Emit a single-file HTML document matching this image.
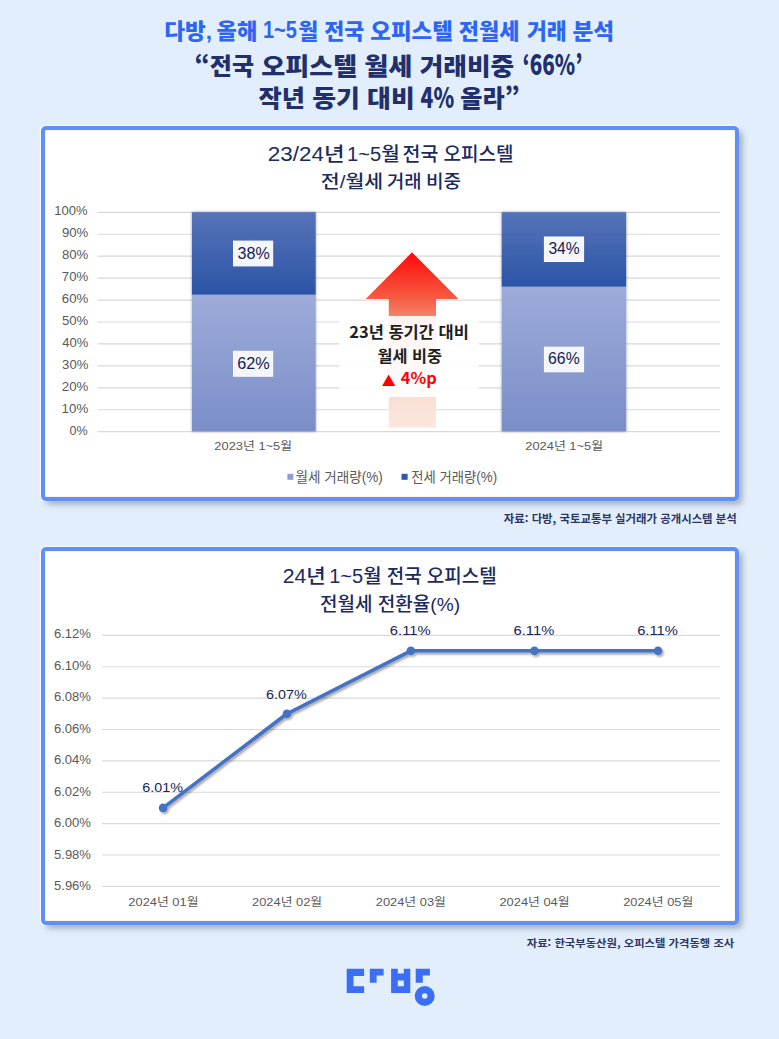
<!DOCTYPE html>
<html lang="ko">
<head>
<meta charset="utf-8">
<style>
html,body{margin:0;padding:0;}
body{width:779px;height:1039px;overflow:hidden;background:#e3eefd;position:relative;
font-family:"Liberation Sans","Noto Sans CJK KR",sans-serif;}
.box{position:absolute;box-sizing:border-box;border:4px solid #5f8ff8;border-radius:5px;background:#fff;
box-shadow:4px 4px 6px -1px rgba(55,65,90,0.42), 0 0 1.5px 0.8px rgba(255,255,255,0.95), inset 0 0 1px 0.5px rgba(230,215,185,0.55);}
#b1{left:41px;top:126px;width:698px;height:375px;}
#b2{left:41px;top:547px;width:698px;height:378px;}
svg{position:absolute;left:0;top:0;}
</style>
</head>
<body>
<div class="box" id="b1"></div>
<div class="box" id="b2"></div>
<svg width="779" height="1039" viewBox="0 0 779 1039">
<defs>
<linearGradient id="gTop" x1="0" y1="0" x2="0" y2="1">
<stop offset="0" stop-color="#5773b8"/><stop offset="1" stop-color="#2b55a7"/>
</linearGradient>
<linearGradient id="gBot" x1="0" y1="0" x2="0" y2="1">
<stop offset="0" stop-color="#9dabd9"/><stop offset="1" stop-color="#7a8ec8"/>
</linearGradient>
<linearGradient id="gArrow" gradientUnits="userSpaceOnUse" x1="0" y1="252" x2="0" y2="428">
<stop offset="0" stop-color="#ff0808"/><stop offset="0.267" stop-color="#f65d44"/><stop offset="0.364" stop-color="#f5846a"/><stop offset="0.82" stop-color="#f9dfd3"/><stop offset="1" stop-color="#fbe7de"/>
</linearGradient>
<filter id="lineShadow" x="-10%" y="-10%" width="130%" height="140%">
<feDropShadow dx="1.5" dy="2" stdDeviation="1.2" flood-color="#000" flood-opacity="0.35"/>
</filter>
<filter id="barShadow" x="-10%" y="-5%" width="120%" height="110%">
<feDropShadow dx="0" dy="0" stdDeviation="1.8" flood-color="#000" flood-opacity="0.35"/>
</filter>
</defs>

<!-- Chart 1 gridlines -->
<g stroke="#d9d9d9" stroke-width="1.2">
<line x1="97.5" x2="720" y1="212.30" y2="212.30"/>
<line x1="97.5" x2="720" y1="234.24" y2="234.24"/>
<line x1="97.5" x2="720" y1="256.18" y2="256.18"/>
<line x1="97.5" x2="720" y1="278.12" y2="278.12"/>
<line x1="97.5" x2="720" y1="300.06" y2="300.06"/>
<line x1="97.5" x2="720" y1="322.00" y2="322.00"/>
<line x1="97.5" x2="720" y1="343.94" y2="343.94"/>
<line x1="97.5" x2="720" y1="365.88" y2="365.88"/>
<line x1="97.5" x2="720" y1="387.82" y2="387.82"/>
<line x1="97.5" x2="720" y1="409.76" y2="409.76"/>
<line x1="97.5" x2="720" y1="431.70" y2="431.70"/>
</g>
<!-- bars -->
<g filter="url(#barShadow)">
<rect x="191.9" y="212.2" width="123.8" height="82.6" fill="url(#gTop)"/>
<rect x="191.9" y="294.8" width="123.8" height="136.6" fill="url(#gBot)"/>
<rect x="501.7" y="212.2" width="124.5" height="74.6" fill="url(#gTop)"/>
<rect x="501.7" y="286.8" width="124.5" height="144.6" fill="url(#gBot)"/>
</g>
<!-- data label boxes -->
<g fill="#f4f6fb" stroke="#fff" stroke-width="1">
<rect x="233.5" y="241.1" width="39.2" height="24.8"/>
<rect x="233.5" y="351.3" width="39.2" height="24.9"/>
<rect x="544.4" y="237.0" width="39.2" height="24.5"/>
<rect x="544.4" y="347.2" width="39.2" height="24.6"/>
</g>
<!-- arrow -->
<path d="M412 252.3 L458.6 299 L436 299 L436 427.4 L388.8 427.4 L388.8 299 L365.7 299 Z" fill="url(#gArrow)"/>
<rect x="339.2" y="316" width="139.7" height="81" fill="#fff" fill-opacity="0.9"/>
<!-- legend squares -->
<rect x="287.4" y="473.8" width="5.9" height="6" fill="#8d9dd2"/>
<rect x="401.5" y="473.8" width="6.1" height="6" fill="#2f58a9"/>

<!-- Chart 2 gridlines -->
<g stroke="#d9d9d9" stroke-width="1.2">
<line x1="102" x2="720" y1="635.40" y2="635.40"/>
<line x1="102" x2="720" y1="666.77" y2="666.77"/>
<line x1="102" x2="720" y1="698.15" y2="698.15"/>
<line x1="102" x2="720" y1="729.52" y2="729.52"/>
<line x1="102" x2="720" y1="760.90" y2="760.90"/>
<line x1="102" x2="720" y1="792.27" y2="792.27"/>
<line x1="102" x2="720" y1="823.65" y2="823.65"/>
<line x1="102" x2="720" y1="855.02" y2="855.02"/>
<line x1="102" x2="720" y1="886.40" y2="886.40"/>
</g>
<g filter="url(#lineShadow)">
<polyline points="163.1,807.9 286.9,713.8 410.8,650.8 534.4,650.8 658.0,650.8" fill="none" stroke="#4472c4" stroke-width="3.6" stroke-linejoin="round" stroke-linecap="round"/>
<g fill="#4472c4">
<circle cx="163.1" cy="807.9" r="4.3"/>
<circle cx="286.9" cy="713.8" r="4.3"/>
<circle cx="410.8" cy="650.8" r="4.3"/>
<circle cx="534.4" cy="650.8" r="4.3"/>
<circle cx="658.0" cy="650.8" r="4.3"/>
</g>
</g>

<text x="164.24" y="38.86" font-size="21.37" font-weight="900" font-family="'Liberation Sans', 'Noto Sans CJK KR', sans-serif" fill="#2d66f5" textLength="47.86" lengthAdjust="spacingAndGlyphs">다방,</text>
<text x="216.64" y="38.86" font-size="21.37" font-weight="900" font-family="'Liberation Sans', 'Noto Sans CJK KR', sans-serif" fill="#2d66f5" textLength="40.61" lengthAdjust="spacingAndGlyphs">올해</text>
<text x="262.90" y="38.45" font-size="24.71" font-weight="900" font-family="'Liberation Sans', 'Noto Sans CJK KR', sans-serif" fill="#2d66f5" textLength="34.03" lengthAdjust="spacingAndGlyphs">1~5</text>
<text x="298.35" y="38.86" font-size="21.37" font-weight="900" font-family="'Liberation Sans', 'Noto Sans CJK KR', sans-serif" fill="#2d66f5" textLength="19.95" lengthAdjust="spacingAndGlyphs">월</text>
<text x="324.26" y="38.86" font-size="21.37" font-weight="900" font-family="'Liberation Sans', 'Noto Sans CJK KR', sans-serif" fill="#2d66f5" textLength="40.09" lengthAdjust="spacingAndGlyphs">전국</text>
<text x="370.23" y="38.86" font-size="21.37" font-weight="900" font-family="'Liberation Sans', 'Noto Sans CJK KR', sans-serif" fill="#2d66f5" textLength="82.70" lengthAdjust="spacingAndGlyphs">오피스텔</text>
<text x="458.86" y="38.86" font-size="21.37" font-weight="900" font-family="'Liberation Sans', 'Noto Sans CJK KR', sans-serif" fill="#2d66f5" textLength="60.68" lengthAdjust="spacingAndGlyphs">전월세</text>
<text x="526.98" y="38.86" font-size="21.37" font-weight="900" font-family="'Liberation Sans', 'Noto Sans CJK KR', sans-serif" fill="#2d66f5" textLength="39.73" lengthAdjust="spacingAndGlyphs">거래</text>
<text x="572.42" y="38.86" font-size="21.37" font-weight="900" font-family="'Liberation Sans', 'Noto Sans CJK KR', sans-serif" fill="#2d66f5" textLength="41.72" lengthAdjust="spacingAndGlyphs">분석</text>
<text x="194.56" y="74.58" font-size="24.21" font-weight="900" font-family="'Noto Sans CJK KR', sans-serif" fill="#212f6c" textLength="59.47" lengthAdjust="spacingAndGlyphs">“전국</text>
<text x="261.32" y="74.58" font-size="24.21" font-weight="900" font-family="'Noto Sans CJK KR', sans-serif" fill="#212f6c" textLength="95.78" lengthAdjust="spacingAndGlyphs">오피스텔</text>
<text x="364.21" y="74.58" font-size="24.21" font-weight="900" font-family="'Noto Sans CJK KR', sans-serif" fill="#212f6c" textLength="48.33" lengthAdjust="spacingAndGlyphs">월세</text>
<text x="419.74" y="74.58" font-size="24.21" font-weight="900" font-family="'Noto Sans CJK KR', sans-serif" fill="#212f6c" textLength="94.53" lengthAdjust="spacingAndGlyphs">거래비중</text>
<text x="522.46" y="74.82" font-size="27.60" font-weight="900" font-family="'Noto Sans CJK KR', sans-serif" fill="#212f6c" textLength="60.00" lengthAdjust="spacingAndGlyphs">‘66%’</text>
<text x="258.55" y="107.06" font-size="23.96" font-weight="900" font-family="'Noto Sans CJK KR', sans-serif" fill="#212f6c" textLength="46.42" lengthAdjust="spacingAndGlyphs">작년</text>
<text x="312.22" y="107.06" font-size="23.96" font-weight="900" font-family="'Noto Sans CJK KR', sans-serif" fill="#212f6c" textLength="47.71" lengthAdjust="spacingAndGlyphs">동기</text>
<text x="367.11" y="107.06" font-size="23.96" font-weight="900" font-family="'Noto Sans CJK KR', sans-serif" fill="#212f6c" textLength="47.58" lengthAdjust="spacingAndGlyphs">대비</text>
<text x="420.58" y="107.70" font-size="28.22" font-weight="900" font-family="'Noto Sans CJK KR', sans-serif" fill="#212f6c" textLength="33.57" lengthAdjust="spacingAndGlyphs">4%</text>
<text x="460.38" y="107.06" font-size="23.96" font-weight="900" font-family="'Noto Sans CJK KR', sans-serif" fill="#212f6c" textLength="59.49" lengthAdjust="spacingAndGlyphs">올라”</text>
<text x="267.88" y="160.53" font-size="19.57" font-weight="500" font-family="'Liberation Sans', 'Noto Sans CJK KR', sans-serif" fill="#1c2a5e" textLength="76.74" lengthAdjust="spacingAndGlyphs">23/24년</text>
<text x="347.09" y="160.53" font-size="19.57" font-weight="500" font-family="'Liberation Sans', 'Noto Sans CJK KR', sans-serif" fill="#1c2a5e" textLength="52.72" lengthAdjust="spacingAndGlyphs">1~5월</text>
<text x="402.62" y="160.53" font-size="19.57" font-weight="500" font-family="'Liberation Sans', 'Noto Sans CJK KR', sans-serif" fill="#1c2a5e" textLength="35.75" lengthAdjust="spacingAndGlyphs">전국</text>
<text x="443.54" y="160.53" font-size="19.57" font-weight="500" font-family="'Liberation Sans', 'Noto Sans CJK KR', sans-serif" fill="#1c2a5e" textLength="70.00" lengthAdjust="spacingAndGlyphs">오피스텔</text>
<text x="320.88" y="188.02" font-size="18.24" font-weight="500" font-family="'Liberation Sans', 'Noto Sans CJK KR', sans-serif" fill="#1c2a5e" textLength="62.37" lengthAdjust="spacingAndGlyphs">전/월세</text>
<text x="387.05" y="188.02" font-size="18.24" font-weight="500" font-family="'Liberation Sans', 'Noto Sans CJK KR', sans-serif" fill="#1c2a5e" textLength="34.65" lengthAdjust="spacingAndGlyphs">거래</text>
<text x="425.98" y="188.02" font-size="18.24" font-weight="500" font-family="'Liberation Sans', 'Noto Sans CJK KR', sans-serif" fill="#1c2a5e" textLength="35.19" lengthAdjust="spacingAndGlyphs">비중</text>
<text x="282.74" y="583.23" font-size="19.57" font-weight="500" font-family="'Liberation Sans', 'Noto Sans CJK KR', sans-serif" fill="#1c2a5e" textLength="43.07" lengthAdjust="spacingAndGlyphs">24년</text>
<text x="329.20" y="583.23" font-size="19.57" font-weight="500" font-family="'Liberation Sans', 'Noto Sans CJK KR', sans-serif" fill="#1c2a5e" textLength="52.40" lengthAdjust="spacingAndGlyphs">1~5월</text>
<text x="386.74" y="583.23" font-size="19.57" font-weight="500" font-family="'Liberation Sans', 'Noto Sans CJK KR', sans-serif" fill="#1c2a5e" textLength="34.92" lengthAdjust="spacingAndGlyphs">전국</text>
<text x="426.84" y="583.23" font-size="19.57" font-weight="500" font-family="'Liberation Sans', 'Noto Sans CJK KR', sans-serif" fill="#1c2a5e" textLength="69.80" lengthAdjust="spacingAndGlyphs">오피스텔</text>
<text x="320.04" y="610.78" font-size="18.79" font-weight="500" font-family="'Liberation Sans', 'Noto Sans CJK KR', sans-serif" fill="#1c2a5e" textLength="52.47" lengthAdjust="spacingAndGlyphs">전월세</text>
<text x="377.74" y="610.78" font-size="18.79" font-weight="500" font-family="'Liberation Sans', 'Noto Sans CJK KR', sans-serif" fill="#1c2a5e" textLength="82.27" lengthAdjust="spacingAndGlyphs">전환율(%)</text>
<text x="349.20" y="337.72" font-size="15.79" font-weight="700" font-family="'Noto Sans CJK KR', sans-serif" fill="#1e1e1e" textLength="119.64" lengthAdjust="spacingAndGlyphs">23년 동기간 대비</text>
<text x="377.54" y="361.62" font-size="15.79" font-weight="700" font-family="'Noto Sans CJK KR', sans-serif" fill="#1e1e1e" textLength="64.52" lengthAdjust="spacingAndGlyphs">월세 비중</text>
<text x="381.78" y="385.64" font-size="14.15" font-weight="700" font-family="'Noto Sans CJK KR', sans-serif" fill="#ff0000" textLength="13.94" lengthAdjust="spacingAndGlyphs">▲</text>
<text x="400.77" y="384.40" font-size="15.28" font-weight="700" font-family="'Noto Sans CJK KR', sans-serif" fill="#ff0000" textLength="35.95" lengthAdjust="spacingAndGlyphs">4%p</text>
<text x="295.56" y="482.16" font-size="13.76" font-weight="400" font-family="'Liberation Sans', 'Noto Sans CJK KR', sans-serif" fill="#595959" textLength="87.16" lengthAdjust="spacingAndGlyphs">월세 거래량(%)</text>
<text x="411.33" y="482.16" font-size="13.76" font-weight="400" font-family="'Liberation Sans', 'Noto Sans CJK KR', sans-serif" fill="#595959" textLength="85.77" lengthAdjust="spacingAndGlyphs">전세 거래량(%)</text>
<text x="214.36" y="450.28" font-size="11.69" font-weight="400" font-family="'Liberation Sans', 'Noto Sans CJK KR', sans-serif" fill="#595959" textLength="77.73" lengthAdjust="spacingAndGlyphs">2023년 1~5월</text>
<text x="525.26" y="450.28" font-size="11.69" font-weight="400" font-family="'Liberation Sans', 'Noto Sans CJK KR', sans-serif" fill="#595959" textLength="77.83" lengthAdjust="spacingAndGlyphs">2024년 1~5월</text>
<text x="503.77" y="523.49" font-size="11.05" font-weight="700" font-family="'Noto Sans CJK KR', sans-serif" fill="#2b3666" textLength="232.99" lengthAdjust="spacingAndGlyphs">자료: 다방, 국토교통부 실거래가 공개시스템 분석</text>
<text x="526.77" y="946.57" font-size="10.32" font-weight="700" font-family="'Noto Sans CJK KR', sans-serif" fill="#2b3666" textLength="207.46" lengthAdjust="spacingAndGlyphs">자료: 한국부동산원, 오피스텔 가격동행 조사</text>
<text x="237.52" y="259.03" font-size="17.18" font-weight="400" font-family="'Liberation Sans', 'Noto Sans CJK KR', sans-serif" fill="#141c50" textLength="32.15" lengthAdjust="spacingAndGlyphs">38%</text>
<text x="237.19" y="369.23" font-size="17.32" font-weight="400" font-family="'Liberation Sans', 'Noto Sans CJK KR', sans-serif" fill="#141c50" textLength="32.48" lengthAdjust="spacingAndGlyphs">62%</text>
<text x="548.43" y="254.43" font-size="17.04" font-weight="400" font-family="'Liberation Sans', 'Noto Sans CJK KR', sans-serif" fill="#141c50" textLength="31.22" lengthAdjust="spacingAndGlyphs">34%</text>
<text x="548.11" y="364.43" font-size="17.04" font-weight="400" font-family="'Liberation Sans', 'Noto Sans CJK KR', sans-serif" fill="#141c50" textLength="31.55" lengthAdjust="spacingAndGlyphs">66%</text>
<text x="54.29" y="214.88" font-size="12.11" font-weight="400" font-family="'Liberation Sans', 'Noto Sans CJK KR', sans-serif" fill="#595959" textLength="33.29" lengthAdjust="spacingAndGlyphs">100%</text>
<text x="61.97" y="236.93" font-size="12.11" font-weight="400" font-family="'Liberation Sans', 'Noto Sans CJK KR', sans-serif" fill="#595959" textLength="26.31" lengthAdjust="spacingAndGlyphs">90%</text>
<text x="61.97" y="258.98" font-size="12.11" font-weight="400" font-family="'Liberation Sans', 'Noto Sans CJK KR', sans-serif" fill="#595959" textLength="26.31" lengthAdjust="spacingAndGlyphs">80%</text>
<text x="61.84" y="281.03" font-size="12.11" font-weight="400" font-family="'Liberation Sans', 'Noto Sans CJK KR', sans-serif" fill="#595959" textLength="26.45" lengthAdjust="spacingAndGlyphs">70%</text>
<text x="61.84" y="303.08" font-size="12.11" font-weight="400" font-family="'Liberation Sans', 'Noto Sans CJK KR', sans-serif" fill="#595959" textLength="26.45" lengthAdjust="spacingAndGlyphs">60%</text>
<text x="61.97" y="325.13" font-size="12.11" font-weight="400" font-family="'Liberation Sans', 'Noto Sans CJK KR', sans-serif" fill="#595959" textLength="26.31" lengthAdjust="spacingAndGlyphs">50%</text>
<text x="62.24" y="347.18" font-size="12.11" font-weight="400" font-family="'Liberation Sans', 'Noto Sans CJK KR', sans-serif" fill="#595959" textLength="26.04" lengthAdjust="spacingAndGlyphs">40%</text>
<text x="62.11" y="369.23" font-size="12.11" font-weight="400" font-family="'Liberation Sans', 'Noto Sans CJK KR', sans-serif" fill="#595959" textLength="26.17" lengthAdjust="spacingAndGlyphs">30%</text>
<text x="61.84" y="391.28" font-size="12.11" font-weight="400" font-family="'Liberation Sans', 'Noto Sans CJK KR', sans-serif" fill="#595959" textLength="26.45" lengthAdjust="spacingAndGlyphs">20%</text>
<text x="61.57" y="413.33" font-size="12.11" font-weight="400" font-family="'Liberation Sans', 'Noto Sans CJK KR', sans-serif" fill="#595959" textLength="26.72" lengthAdjust="spacingAndGlyphs">10%</text>
<text x="69.42" y="435.38" font-size="12.11" font-weight="400" font-family="'Liberation Sans', 'Noto Sans CJK KR', sans-serif" fill="#595959" textLength="18.14" lengthAdjust="spacingAndGlyphs">0%</text>
<text x="53.95" y="638.37" font-size="12.54" font-weight="400" font-family="'Liberation Sans', 'Noto Sans CJK KR', sans-serif" fill="#595959" textLength="36.93" lengthAdjust="spacingAndGlyphs">6.12%</text>
<text x="53.95" y="669.87" font-size="12.54" font-weight="400" font-family="'Liberation Sans', 'Noto Sans CJK KR', sans-serif" fill="#595959" textLength="36.93" lengthAdjust="spacingAndGlyphs">6.10%</text>
<text x="53.95" y="701.37" font-size="12.54" font-weight="400" font-family="'Liberation Sans', 'Noto Sans CJK KR', sans-serif" fill="#595959" textLength="36.93" lengthAdjust="spacingAndGlyphs">6.08%</text>
<text x="53.95" y="732.87" font-size="12.54" font-weight="400" font-family="'Liberation Sans', 'Noto Sans CJK KR', sans-serif" fill="#595959" textLength="36.93" lengthAdjust="spacingAndGlyphs">6.06%</text>
<text x="53.95" y="764.37" font-size="12.54" font-weight="400" font-family="'Liberation Sans', 'Noto Sans CJK KR', sans-serif" fill="#595959" textLength="36.93" lengthAdjust="spacingAndGlyphs">6.04%</text>
<text x="53.95" y="795.87" font-size="12.54" font-weight="400" font-family="'Liberation Sans', 'Noto Sans CJK KR', sans-serif" fill="#595959" textLength="36.93" lengthAdjust="spacingAndGlyphs">6.02%</text>
<text x="53.95" y="827.37" font-size="12.54" font-weight="400" font-family="'Liberation Sans', 'Noto Sans CJK KR', sans-serif" fill="#595959" textLength="36.93" lengthAdjust="spacingAndGlyphs">6.00%</text>
<text x="54.08" y="858.87" font-size="12.54" font-weight="400" font-family="'Liberation Sans', 'Noto Sans CJK KR', sans-serif" fill="#595959" textLength="36.80" lengthAdjust="spacingAndGlyphs">5.98%</text>
<text x="54.08" y="890.37" font-size="12.54" font-weight="400" font-family="'Liberation Sans', 'Noto Sans CJK KR', sans-serif" fill="#595959" textLength="36.80" lengthAdjust="spacingAndGlyphs">5.96%</text>
<text x="142.18" y="792.37" font-size="13.10" font-weight="400" font-family="'Liberation Sans', 'Noto Sans CJK KR', sans-serif" fill="#17245a" textLength="40.74" lengthAdjust="spacingAndGlyphs">6.01%</text>
<text x="265.98" y="698.57" font-size="13.10" font-weight="400" font-family="'Liberation Sans', 'Noto Sans CJK KR', sans-serif" fill="#17245a" textLength="40.74" lengthAdjust="spacingAndGlyphs">6.07%</text>
<text x="389.86" y="635.07" font-size="13.10" font-weight="400" font-family="'Liberation Sans', 'Noto Sans CJK KR', sans-serif" fill="#17245a" textLength="40.77" lengthAdjust="spacingAndGlyphs">6.11%</text>
<text x="513.56" y="635.07" font-size="13.10" font-weight="400" font-family="'Liberation Sans', 'Noto Sans CJK KR', sans-serif" fill="#17245a" textLength="40.77" lengthAdjust="spacingAndGlyphs">6.11%</text>
<text x="637.16" y="635.07" font-size="13.10" font-weight="400" font-family="'Liberation Sans', 'Noto Sans CJK KR', sans-serif" fill="#17245a" textLength="40.77" lengthAdjust="spacingAndGlyphs">6.11%</text>
<text x="128.36" y="906.09" font-size="11.41" font-weight="400" font-family="'Liberation Sans', 'Noto Sans CJK KR', sans-serif" fill="#595959" textLength="70.13" lengthAdjust="spacingAndGlyphs">2024년 01월</text>
<text x="252.06" y="906.09" font-size="11.41" font-weight="400" font-family="'Liberation Sans', 'Noto Sans CJK KR', sans-serif" fill="#595959" textLength="70.13" lengthAdjust="spacingAndGlyphs">2024년 02월</text>
<text x="375.76" y="906.09" font-size="11.41" font-weight="400" font-family="'Liberation Sans', 'Noto Sans CJK KR', sans-serif" fill="#595959" textLength="70.13" lengthAdjust="spacingAndGlyphs">2024년 03월</text>
<text x="499.46" y="906.09" font-size="11.41" font-weight="400" font-family="'Liberation Sans', 'Noto Sans CJK KR', sans-serif" fill="#595959" textLength="70.13" lengthAdjust="spacingAndGlyphs">2024년 04월</text>
<text x="623.16" y="906.09" font-size="11.41" font-weight="400" font-family="'Liberation Sans', 'Noto Sans CJK KR', sans-serif" fill="#595959" textLength="70.13" lengthAdjust="spacingAndGlyphs">2024년 05월</text>

<!-- logo -->
<g fill="#3b6ef5">
<title>다방</title>
<path d="M346.7 968.7 H364.1 V976 H353.5 V986.3 H364.1 V993.1 H346.7 Z"/>
<path d="M369.8 968.7 H383.6 V975.4 H376.6 V982.8 H369.8 Z"/>
<path fill-rule="evenodd" d="M391.1 968.7 H397.8 V973.5 H403.8 V968.7 H410.3 V993.1 H391.1 Z M397.8 980.5 V986.3 H403.8 V980.5 Z"/>
<path d="M415.7 968.7 H429.9 V975.4 H422.8 V982.8 H415.7 Z"/>
<circle cx="424.7" cy="996" r="6.4" fill="none" stroke="#3b6ef5" stroke-width="7.2"/>
</g>
</svg>
</body>
</html>
